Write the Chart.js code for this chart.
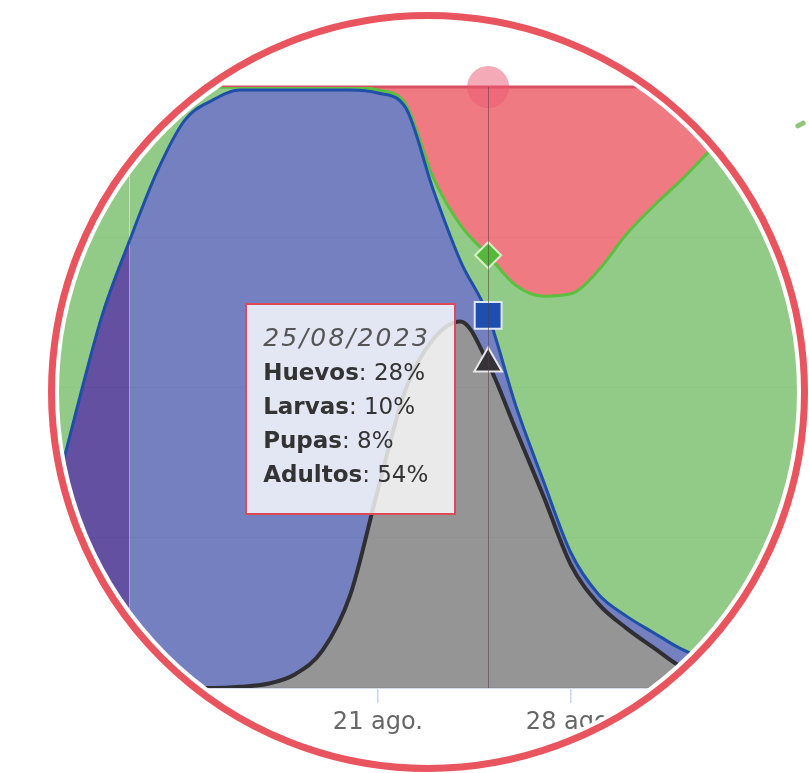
<!DOCTYPE html>
<html>
<head>
<meta charset="utf-8">
<script src="https://cdn.jsdelivr.net/npm/chart.js@4.4.0/dist/chart.umd.min.js"></script>
<style>
html,body{margin:0;padding:0;background:#fff;overflow:hidden;width:809px;height:773px;}
#clip{position:absolute;left:0;top:0;width:840px;height:773px;clip-path:circle(369px at 428px 392px);}
#wrap{position:absolute;left:0;top:0;width:840px;height:773px;}
#ring{position:absolute;left:48px;top:12px;width:760px;height:760px;box-sizing:border-box;border:7px solid #e9555f;border-radius:50%;}
#mark{position:absolute;left:795px;top:122px;width:11px;height:5px;background:#8fc47a;border-radius:3px;transform:rotate(-28deg);}
#tip{position:absolute;display:none;box-sizing:border-box;width:211px;background:rgba(255,255,255,0.8);border:2px solid #dc4a57;
  padding:16px 18px 22px 16px;font-family:"DejaVu Sans",sans-serif;color:#333;white-space:nowrap;}
#tip .t{font-style:italic;font-size:25px;line-height:34px;color:#555;letter-spacing:2.3px;}
#tip .r{font-size:23px;line-height:34px;}
#tip .r b{font-weight:bold;}
</style>
</head>
<body>
<div id="clip">
  <div id="wrap"><canvas id="c"></canvas></div>
  <div id="tip"></div>
</div>
<div id="ring"></div>
<div id="mark"></div>
<script>
// ---- data ----
const dates = ['09/08/2023','10/08/2023','11/08/2023','12/08/2023','13/08/2023','14/08/2023','15/08/2023',
  '16/08/2023','17/08/2023','18/08/2023','19/08/2023','20/08/2023','21/08/2023','22/08/2023','23/08/2023',
  '24/08/2023','25/08/2023','26/08/2023','27/08/2023','28/08/2023','29/08/2023','30/08/2023','31/08/2023',
  '01/09/2023','02/09/2023','03/09/2023','04/09/2023','05/09/2023','06/09/2023'];
const tickLabels = {'14/08/2023':'14 ago.','21/08/2023':'21 ago.','28/08/2023':'28 ago.','04/09/2023':'4 sept.'};
const huevos  = [0,0,0,0,0,0,0,0,0,0,0,0,0.5,2.8,15,23,28,33,34.8,34.4,30.5,24.6,19.8,15.5,10.8,6.3,4,2,1];
const larvas  = [73,55,38,25.5,14,5.5,2.2,0.5,0.5,0.5,0.5,0.5,0.5,0.6,2,6,10,20,30.7,43.1,53.9,63.4,71,78,84.5,89.7,92.5,94.7,95.8];
const pupas   = [27,45,62,74.5,86,94.5,97.8,99.3,98.8,97.2,93.2,84,66,47,25,10,8,4,2.5,2,1.6,2,2.5,3,3,3,3,3,3];
const adultos = [0,0,0,0,0,0,0,0.2,0.7,2.3,6.3,15.5,33,49.6,58,61,54,43,32,20.5,14,10,6.7,3.5,1.7,1,0.5,0.3,0.2];
const activeDate = '25/08/2023';
const pastEndDate = '12/08/2023';

Chart.defaults.font.family = 'DejaVu Sans';

Chart.Tooltip.positioners.atCursor = function(elements, pos) {
  if (!elements.length) return false;
  return {x: elements[0].element.x, y: pos.y};
};

function externalTip(context) {
  const {tooltip} = context;
  const el = document.getElementById('tip');
  if (tooltip.opacity === 0 || !tooltip.dataPoints || !tooltip.dataPoints.length) { el.style.display = 'none'; return; }
  const pts = tooltip.dataPoints.slice().sort((a, b) => b.datasetIndex - a.datasetIndex);
  let html = '<div class="t">' + dates[pts[0].dataIndex] + '</div>';
  pts.forEach(p => {
    html += '<div class="r"><b>' + p.dataset.label + '</b>: ' + Math.round(p.raw) + '%</div>';
  });
  el.innerHTML = html;
  el.style.display = 'block';
  el.style.left = (tooltip.caretX - 32 - el.offsetWidth) + 'px';
  el.style.top = (tooltip.caretY - el.offsetHeight / 2) + 'px';
}

const crosshair = {
  id: 'crosshair',
  afterDatasetsDraw(chart) {
    const act = chart.getActiveElements();
    if (!act.length) return;
    const x = Math.round(act[0].element.x) + 0.5;
    const {top, bottom} = chart.chartArea;
    const ctx = chart.ctx;
    ctx.save();
    ctx.strokeStyle = 'rgba(80,60,70,0.55)';
    ctx.lineWidth = 1;
    ctx.beginPath();
    ctx.moveTo(x, top);
    ctx.lineTo(x, bottom);
    ctx.stroke();
    ctx.restore();
  }
};

const pastIdx = dates.indexOf(pastEndDate);

const canvas = document.getElementById('c');
canvas.width = 840; canvas.height = 773;
const chart = new Chart(canvas, {
  type: 'line',
  data: {
    labels: dates,
    datasets: [
      {label: 'Adultos', data: adultos, fill: 'origin',
       backgroundColor: 'rgba(131,131,131,0.85)', borderColor: '#2e2e33', borderWidth: 4,
       pointStyle: 'triangle', pointRadius: 0, pointHoverRadius: 16,
       pointHoverBackgroundColor: '#333338', pointHoverBorderColor: '#e8e8e8', pointHoverBorderWidth: 2},
      {label: 'Pupas', data: pupas, fill: '-1',
       backgroundColor: 'rgba(92,106,181,0.85)', borderColor: '#1f4fa8', borderWidth: 3,
       segment: {backgroundColor: ctx => ctx.p1DataIndex <= pastIdx ? 'rgba(73,49,143,0.85)' : undefined},
       pointStyle: 'rect', pointRadius: 0, pointHoverRadius: 19,
       pointHoverBackgroundColor: '#1f4fae', pointHoverBorderColor: '#dfe8f5', pointHoverBorderWidth: 2},
      {label: 'Larvas', data: larvas, fill: '-1',
       backgroundColor: 'rgba(126,194,114,0.85)', borderColor: '#5cbf40', borderWidth: 3,
       pointStyle: 'rectRot', pointRadius: 0, pointHoverRadius: 13,
       pointHoverBackgroundColor: '#55b83a', pointHoverBorderColor: '#d8f0c8', pointHoverBorderWidth: 2},
      {label: 'Huevos', data: huevos, fill: '-1', clip: false,
       backgroundColor: 'rgba(237,99,108,0.85)', borderColor: '#d84f60', borderWidth: 3,
       pointStyle: 'circle', pointRadius: 0, pointHoverRadius: 21,
       pointHoverBackgroundColor: 'rgba(236,88,112,0.5)', pointHoverBorderWidth: 0}
    ]
  },
  options: {
    responsive: false,
    animation: false,
    events: [],
    layout: {padding: {left: 47, right: 21, top: 87, bottom: 0}},
    elements: {line: {cubicInterpolationMode: 'monotone'}},
    plugins: {
      legend: {display: false},
      title: {display: false},
      tooltip: {enabled: false, mode: 'index', intersect: false, position: 'atCursor', external: externalTip}
    },
    scales: {
      x: {
        type: 'category', offset: false,
        grid: {drawOnChartArea: false, drawTicks: true, tickLength: 15, color: '#ccd6eb', lineWidth: 1.5},
        border: {display: true, color: '#ccd6eb', width: 1.5},
        ticks: {autoSkip: false, maxRotation: 0, padding: 5, color: '#666', font: {size: 24},
          callback: (v, i) => tickLabels[dates[i]] ?? null},
        afterFit: s => { s.height = 85; }
      },
      y: {
        stacked: true, min: 0, max: 100,
        ticks: {display: false, stepSize: 25},
        grid: {color: '#e3e3e8', drawTicks: false},
        border: {display: false},
        afterFit: s => { s.width = 0; }
      }
    }
  },
  plugins: [crosshair]
});

const idx = dates.indexOf(activeDate);
const els = chart.data.datasets.map((d, i) => ({datasetIndex: i, index: idx}));
chart.setActiveElements(els);
chart.tooltip.setActiveElements(els, {x: chart.scales.x.getPixelForValue(idx), y: chart.scales.y.getPixelForValue(46.4)});
chart.update();
</script>
</body>
</html>
